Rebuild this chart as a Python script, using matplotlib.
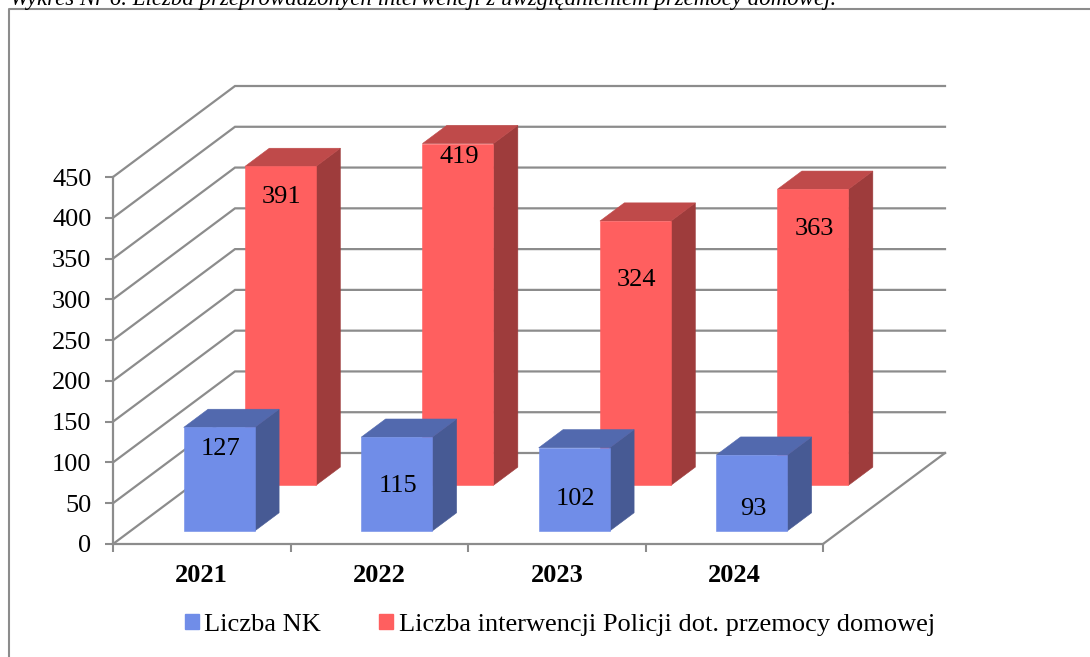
import matplotlib
matplotlib.use("Agg")
import matplotlib.pyplot as plt
from matplotlib.lines import Line2D
from matplotlib.patches import Patch, Polygon

plt.rcParams['font.family'] = ['Liberation Serif', 'DejaVu Serif']

# ---- data ----
years = ['2021', '2022', '2023', '2024']
liczba_nk = [127, 115, 102, 93]
liczba_interwencji = [391, 419, 324, 363]
y_ticks = [0, 50, 100, 150, 200, 250, 300, 350, 400, 450]
series_names = ['Liczba NK', 'Liczba interwencji Policji dot. przemocy domowej']
caption = 'Wykres Nr 6. Liczba przeprowadzonych interwencji z uwzględnieniem przemocy domowej.'

# ---- style ----
W, H = 1090, 657
GRID = '#8c8c8c'
BLUE = ('#708de8', '#5269ae', '#475a94')   # front, top, side
RED = ('#ff5f5f', '#bf4a4a', '#9e3c3c')
DX = 122 / 177.5        # oblique shift of the full floor depth, in category units
DY = 91 / (367 / 450)   # the same shift, in value units
BAR_LEFT, BAR_W = 0.30, 0.40
BAR_DEPTH = 0.20
BLUE_D, RED_D = 0.143, 0.645
FS = 19
# how far below the bar's top each number sits, in pixels
blue_drop = [22, 49, 51, 54]
red_drop = [31, 13, 59, 40]


def proj(x, y, d):
    return (x + DX * d, y + DY * d)


fig = plt.figure(figsize=(W / 100, H / 100), dpi=100, facecolor='white')
ax = fig.add_axes([113 / W, (H - 544) / H, 710 / W, 367 / H])
ax.set_xlim(0, len(years))
ax.set_ylim(0, 450)
ax.patch.set_alpha(0)

for s in ('top', 'right'):
    ax.spines[s].set_visible(False)
for s in ('left', 'bottom'):
    ax.spines[s].set_color(GRID)
    ax.spines[s].set_linewidth(1.6)

ax.set_yticks(y_ticks)
ax.set_xticks(range(len(years) + 1))
ax.set_xticklabels([])
ax.set_xticks([i + 0.5 for i in range(len(years))], minor=True)
ax.set_xticklabels(years, minor=True, fontweight='bold', fontsize=FS)
ax.tick_params(axis='both', which='major', color=GRID, width=1.5, length=5.5)
ax.tick_params(axis='y', labelsize=FS, pad=10)
ax.tick_params(axis='x', which='minor', length=0, pad=14.5)

# walls and floor
xn = len(years)
for v in y_ticks:
    p = proj(0, v, 1)
    q = proj(xn, v, 1)
    ax.plot([0, p[0], q[0]], [v, p[1], q[1]], color=GRID, lw=1.6,
            clip_on=False, zorder=1, solid_joinstyle='miter')
p = proj(xn, 0, 0)
q = proj(xn, 0, 1)
ax.plot([p[0], q[0]], [p[1], q[1]], color=GRID, lw=1.6, clip_on=False, zorder=1)


def draw_bar(i, value, d, cols, drop, z):
    x0 = i + BAR_LEFT
    x1 = x0 + BAR_W
    d1 = d + BAR_DEPTH
    front = [proj(x0, 0, d), proj(x1, 0, d), proj(x1, value, d), proj(x0, value, d)]
    top = [proj(x0, value, d), proj(x1, value, d), proj(x1, value, d1), proj(x0, value, d1)]
    side = [proj(x1, 0, d), proj(x1, 0, d1), proj(x1, value, d1), proj(x1, value, d)]
    for pts, c in ((side, cols[2]), (top, cols[1]), (front, cols[0])):
        ax.add_patch(Polygon(pts, closed=True, facecolor=c, edgecolor=c, lw=0.4,
                             clip_on=False, zorder=z))
    cx, cy = proj((x0 + x1) / 2, value, d)
    ax.annotate(str(value), xy=(cx, cy), xytext=(1, -drop * 0.72), textcoords='offset points',
                ha='center', va='center', fontsize=FS, color='black', zorder=z + 1,
                annotation_clip=False)


for i, v in enumerate(liczba_interwencji):
    draw_bar(i, v, RED_D, RED, red_drop[i], 3)
for i, v in enumerate(liczba_nk):
    draw_bar(i, v, BLUE_D, BLUE, blue_drop[i], 5)

# legend
handles = [Patch(facecolor=BLUE[0], edgecolor=BLUE[0]), Patch(facecolor=RED[0], edgecolor=RED[0])]
fig.legend(handles, series_names, loc='center', bbox_to_anchor=(560 / W, (H - 625) / H),
           ncol=2, frameon=False, fontsize=FS, handlelength=0.53, handleheight=0.53,
           handletextpad=0.2, columnspacing=2.2, borderpad=0, borderaxespad=0)

# outer frame (no right or bottom edge visible in the crop)
fig.add_artist(Line2D([9 / W, 9 / W, 1], [0, (H - 9) / H, (H - 9) / H], color=GRID, lw=1.5,
                      transform=fig.transFigure))

# caption, cut by the top of the image
fig.text(10 / W, (H - 5) / H, caption, fontsize=16.45, style='italic', ha='left', va='baseline',
         color='black')

fig.savefig('out.png', dpi=100)
